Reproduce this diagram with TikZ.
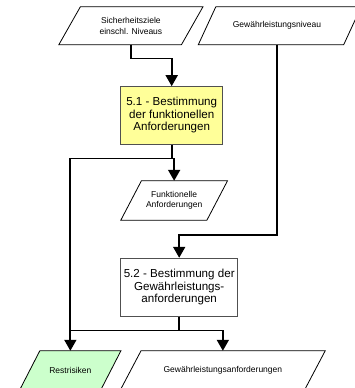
\documentclass[tikz,border=0pt]{standalone}
\usepackage{fontspec}
\setmainfont{Liberation Sans}
\usetikzlibrary{arrows.meta,calc}
\pgfdeclarelayer{background}
\pgfsetlayers{background,main}

\definecolor{procyellow}{RGB}{255,255,153}
\definecolor{resgreen}{RGB}{204,255,204}
\definecolor{boxborder}{RGB}{80,80,80}

\tikzset{
  frame/.style={draw=none, inner sep=0pt, align=center},
  smalltext/.style={font=\fontsize{8.5}{10.5}\selectfont},
  bigtext/.style={font=\fontsize{11.6}{12.6}\selectfont},
  procbox/.style={frame, bigtext, draw=boxborder, line width=1pt},
  paraline/.style={draw=black, line width=0.8pt, line join=miter},
  conn/.style={line width=1.8pt, -{Triangle[width=12pt,length=11pt]}},
  plainconn/.style={line width=1.8pt},
}

% outline of a slanted data shape around the invisible node #1
\newcommand\slantshape[3]{%
  \path[paraline, fill=#3]
    ([xshift=#2]#1.north west) -- (#1.north east)
    -- ([xshift=-#2]#1.south east) -- (#1.south west) -- cycle;}

\begin{document}
\begin{tikzpicture}[x=1pt, y=-1pt]
  \useasboundingbox (0,0) rectangle (354,388);
  \clip (0,0) rectangle (354,388);

  % inputs
  \node[frame, smalltext, minimum width=143.7pt, minimum height=37.5pt]
    (p1) at (130.9,25.75) {Sicherheitsziele\\einschl. Niveaus};
  \node[frame, minimum width=162.5pt, minimum height=37.5pt]
    (p2) at (279.75,25.75) {};
  \node[frame, smalltext] (p2t) at ([xshift=-2.75pt]p2.center) {Gewährleistungsniveau};

  % process 5.1
  \node[procbox, fill=procyellow, minimum width=102pt, minimum height=57.3pt]
    (b51) at (171.7,115.35) {5.1 - Bestimmung\\der funktionellen\\Anforderungen};

  % intermediate result
  \node[frame, smalltext, minimum width=106.3pt, minimum height=39pt]
    (p3) at (174.15,200.5) {Funktionelle\\Anforderungen};

  % process 5.2
  \node[procbox, fill=white, minimum width=117pt, minimum height=57.7pt]
    (b52) at (179.2,287.15) {5.2 - Bestimmung der\\Gewährleistungs-\\anforderungen};

  % outputs
  \node[frame, smalltext, minimum width=100.7pt, minimum height=38.5pt]
    (pR) at (70.35,370.25) {Restrisiken};
  \node[frame, smalltext, minimum width=204.3pt, minimum height=38.5pt]
    (pG) at (222.85,370.25) {Gewährleistungsanforderungen};

  \begin{pgfonlayer}{background}
    \slantshape{p1}{21.5pt}{white}
    \slantshape{p2}{17.5pt}{white}
    \slantshape{p3}{20.6pt}{white}
    \slantshape{pR}{20pt}{resgreen}
    \slantshape{pG}{20.5pt}{white}
  \end{pgfonlayer}

  % connectors
  \draw[conn] (p1.south) |- ([yshift=27.7pt]b51.north) -- (b51.north);

  \coordinate (j1) at ([yshift=-14pt]b51.south);
  \draw[conn] (b51.south) -- (j1) -| (p3.north);
  \draw[conn] (j1) -| (pR.north);

  \draw[conn] (p2t |- p2.south) |- ([yshift=22.6pt]b52.north) -- (b52.north);

  \coordinate (j2) at ([yshift=-14pt]b52.south);
  \draw[conn] (b52.south) -- (j2) -| (pG.north);
  \draw[plainconn] (j2) -- (j2 -| pR.north);
\end{tikzpicture}
\end{document}
